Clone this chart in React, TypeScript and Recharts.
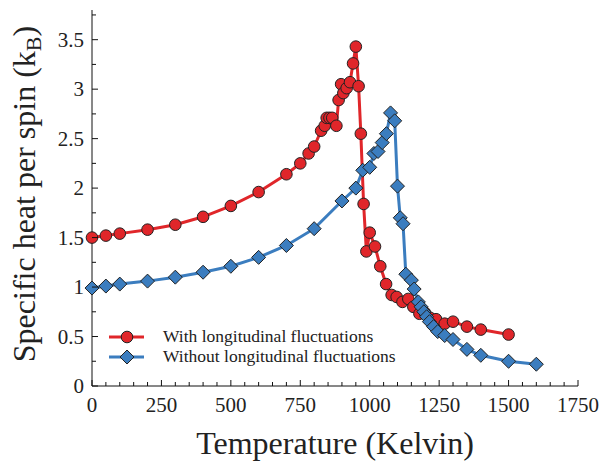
import { Legend, Line, LineChart, XAxis, YAxis } from "recharts";

// Temperature (K) and specific heat (k_B)
const withLongTemp = [
  0, 50, 100, 200, 300, 400, 500, 600, 700, 750, 780, 800, 825, 838, 845, 855,
  865, 880, 888, 897, 905, 917, 929, 940, 950, 960, 968, 978, 988, 1000, 1019,
  1038, 1059, 1079, 1097, 1118, 1139, 1157, 1179, 1199, 1217, 1239, 1270, 1300,
  1350, 1400, 1500,
];
const withLongHeat = [
  1.5, 1.52, 1.54, 1.58, 1.63, 1.71, 1.82, 1.96, 2.14, 2.25, 2.35, 2.42, 2.58,
  2.63, 2.71, 2.71, 2.71, 2.63, 2.89, 3.05, 2.96, 3.01, 3.07, 3.26, 3.43, 3.03,
  2.55, 1.84, 1.36, 1.55, 1.41, 1.21, 1.03, 0.92, 0.9, 0.85, 0.88, 0.8, 0.73,
  0.74, 0.69, 0.675, 0.63, 0.65, 0.6, 0.57, 0.52,
];

const withoutLongTemp = [
  0, 50, 100, 200, 300, 400, 500, 600, 700, 800, 900, 950, 975, 1000, 1015,
  1030, 1045, 1060, 1075, 1090, 1100, 1110, 1120, 1130, 1150, 1160, 1175, 1185,
  1195, 1205, 1215, 1230, 1245, 1270, 1300, 1350, 1400, 1500, 1600,
];
const withoutLongHeat = [
  0.99, 1.01, 1.03, 1.06, 1.1, 1.15, 1.21, 1.3, 1.42, 1.59, 1.87, 2.0, 2.18,
  2.21, 2.35, 2.37, 2.46, 2.55, 2.76, 2.68, 2.02, 1.7, 1.64, 1.13, 1.07, 0.98,
  0.85, 0.8, 0.75, 0.7, 0.65, 0.6, 0.55, 0.51, 0.47, 0.37, 0.31, 0.25, 0.22,
];

const xMajorTicks = [0, 250, 500, 750, 1000, 1250, 1500, 1750];
const xTicks = [
  0, 50, 100, 150, 200, 250, 300, 350, 400, 450, 500, 550, 600, 650, 700, 750,
  800, 850, 900, 950, 1000, 1050, 1100, 1150, 1200, 1250, 1300, 1350, 1400,
  1450, 1500, 1550, 1600, 1650, 1700, 1750,
];
const yMajorTicks = [0, 0.5, 1, 1.5, 2, 2.5, 3, 3.5];
const yTicks = [
  0, 0.25, 0.5, 0.75, 1, 1.25, 1.5, 1.75, 2, 2.25, 2.5, 2.75, 3, 3.25, 3.5,
  3.75,
];

const seriesNames = [
  "With longitudinal fluctuations",
  "Without longitudinal fluctuations",
];

const withLong = withLongTemp.map((t, i) => ({ t, c: withLongHeat[i] }));
const withoutLong = withoutLongTemp.map((t, i) => ({
  t,
  c: withoutLongHeat[i],
}));

const FONT = "Liberation Serif";
const RED = "#e0262a";
const BLUE = "#3b7dbf";
const EDGE = "#222";
const AXIS = "#111";
const TXT = { fontFamily: FONT, fill: "#222" };

const BottomTick = (props: any) => {
  const { x, y, payload } = props;
  const major = xMajorTicks.includes(payload.value);
  return (
    <g>
      <line x1={x} x2={x} y1={y} y2={y - (major ? 6 : 4)} stroke={AXIS} />
      {major && (
        <text
          x={x}
          y={y + 26}
          textAnchor="middle"
          style={{ ...TXT, fontSize: 21 }}
        >
          {payload.value}
        </text>
      )}
    </g>
  );
};

const TopTick = (props: any) => {
  const { x, y, payload } = props;
  const major = xMajorTicks.includes(payload.value);
  return <line x1={x} x2={x} y1={y} y2={y + (major ? 6 : 4)} stroke={AXIS} />;
};

const LeftTick = (props: any) => {
  const { x, y, payload } = props;
  const major = yMajorTicks.includes(payload.value);
  return (
    <g>
      <line x1={x} x2={x + (major ? 6 : 4)} y1={y} y2={y} stroke={AXIS} />
      {major && (
        <text
          x={x - 8}
          y={y + 7}
          textAnchor="end"
          style={{ ...TXT, fontSize: 21 }}
        >
          {payload.value}
        </text>
      )}
    </g>
  );
};

const RightTick = (props: any) => {
  const { x, y, payload } = props;
  const major = yMajorTicks.includes(payload.value);
  return <line x1={x} x2={x - (major ? 6 : 4)} y1={y} y2={y} stroke={AXIS} />;
};

const Circle = (props: any) => {
  const { cx, cy, index } = props;
  return (
    <circle
      key={`c-${index}`}
      cx={cx}
      cy={cy}
      r={5.8}
      fill={RED}
      stroke={EDGE}
      strokeWidth={1}
    />
  );
};

const Diamond = (props: any) => {
  const { cx, cy, index } = props;
  const s = 7;
  return (
    <polygon
      key={`d-${index}`}
      points={`${cx},${cy - s} ${cx + s},${cy} ${cx},${cy + s} ${cx - s},${cy}`}
      fill={BLUE}
      stroke={EDGE}
      strokeWidth={1}
    />
  );
};

const LegendBox = () => (
  <svg width={300} height={45} style={{ display: "block" }}>
    <line x1={4} x2={39} y1={10} y2={10} stroke={RED} strokeWidth={3} />
    <circle cx={22} cy={10} r={5.8} fill={RED} stroke={EDGE} />
    <text x={58} y={15} style={{ ...TXT, fontSize: 17.5 }}>
      {seriesNames[0]}
    </text>
    <line x1={4} x2={39} y1={30} y2={30} stroke={BLUE} strokeWidth={3} />
    <polygon points="22,23 29,30 22,37 15,30" fill={BLUE} stroke={EDGE} />
    <text x={58} y={35} style={{ ...TXT, fontSize: 17.5 }}>
      {seriesNames[1]}
    </text>
  </svg>
);

const YTitle = (props: any) => {
  const { viewBox } = props;
  const cy = viewBox.y + viewBox.height / 2 - 4;
  const cx = 25;
  return (
    <text
      transform={`translate(${cx}, ${cy}) rotate(-90)`}
      textAnchor="middle"
      style={{ ...TXT, fontSize: 32 }}
      dy={10}
    >
      Specific heat per spin (k
      <tspan style={{ fontSize: 22 }} dy={6}>
        B
      </tspan>
      <tspan dy={-6}>)</tspan>
    </text>
  );
};

export default function App() {
  return (
    <div style={{ position: "absolute", left: 0, top: 0 }}>
      <LineChart
        width={601}
        height={462}
        margin={{ top: 10, right: 23, bottom: 0, left: 0 }}
      >
        <XAxis
          xAxisId="b"
          type="number"
          dataKey="t"
          domain={[0, 1750]}
          ticks={xTicks}
          interval={0}
          height={76}
          tickSize={0}
          tickMargin={0}
          tickLine={false}
          tick={<BottomTick />}
          stroke={AXIS}
          label={{
            value: "Temperature (Kelvin)",
            position: "insideBottom",
            offset: 8,
            style: { ...TXT, fontSize: 32 },
          }}
        />
        <XAxis
          xAxisId="t"
          orientation="top"
          type="number"
          dataKey="t"
          domain={[0, 1750]}
          ticks={xTicks}
          interval={0}
          height={0}
          tickSize={0}
          tickMargin={0}
          tickLine={false}
          tick={<TopTick />}
          stroke={AXIS}
        />
        <YAxis
          yAxisId="l"
          type="number"
          domain={[0, 3.8]}
          ticks={yTicks}
          interval={0}
          width={92}
          tickSize={0}
          tickMargin={0}
          tickLine={false}
          tick={<LeftTick />}
          stroke={AXIS}
          label={{ content: <YTitle /> }}
        />
        <YAxis
          yAxisId="r"
          orientation="right"
          type="number"
          domain={[0, 3.8]}
          ticks={yTicks}
          interval={0}
          width={0}
          tickSize={0}
          tickMargin={0}
          tickLine={false}
          tick={<RightTick />}
          stroke={AXIS}
        />
        <Legend
          layout="vertical"
          align="center"
          verticalAlign="middle"
          content={<LegendBox />}
          wrapperStyle={{ position: "absolute", left: 105, top: 327, width: 300 }}
        />
        <Line
          xAxisId="b"
          yAxisId="l"
          data={withLong}
          dataKey="c"
          name={seriesNames[0]}
          type="linear"
          stroke={RED}
          strokeWidth={3}
          dot={<Circle />}
          isAnimationActive={false}
        />
        <Line
          xAxisId="b"
          yAxisId="l"
          data={withoutLong}
          dataKey="c"
          name={seriesNames[1]}
          type="linear"
          stroke={BLUE}
          strokeWidth={3}
          dot={<Diamond />}
          isAnimationActive={false}
        />
      </LineChart>
    </div>
  );
}
